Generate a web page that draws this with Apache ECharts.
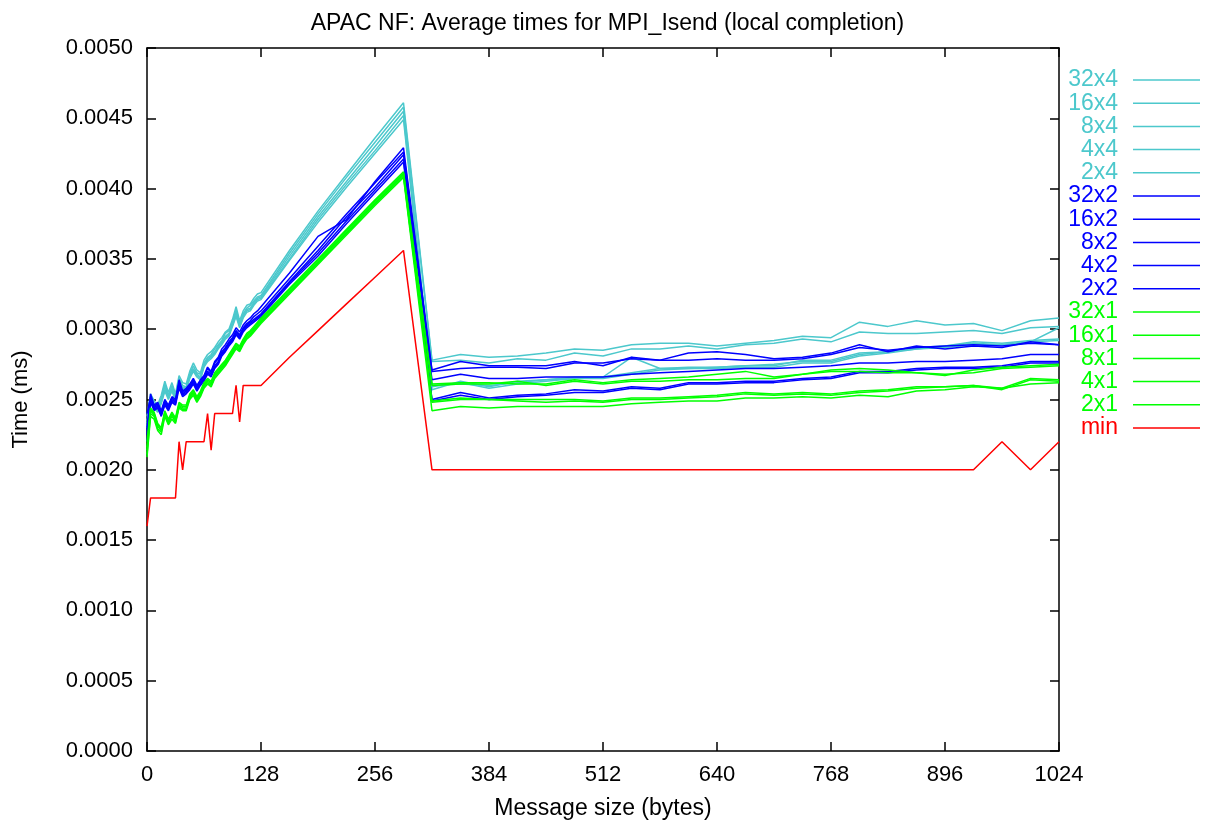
<!DOCTYPE html>
<html><head><meta charset="utf-8">
<script src="https://cdn.jsdelivr.net/npm/echarts@6/dist/echarts.min.js"></script>
<style>html,body{margin:0;padding:0;background:#fff}#c{width:1215px;height:825px}</style>
</head><body><div id="c"></div>
<script>
// Message sizes (bytes)
const sizes = [0,4,8,12,16,20,24,28,32,36,40,44,48,52,56,60,64,68,72,76,80,84,88,92,96,100,104,108,112,116,120,124,128,160,192,224,256,288,320,352,384,416,448,480,512,544,576,608,640,672,704,736,768,800,832,864,896,928,960,992,1024];

// Average times (ms)
const s32x4 = [0.00238,0.00254,0.00249,0.00246,0.00253,0.00263,0.00255,0.00262,0.00254,0.00267,0.00262,0.00261,0.00270,0.00276,0.00271,0.00269,0.00278,0.00282,0.00284,0.00287,0.00291,0.00294,0.00298,0.00300,0.00307,0.00316,0.00306,0.00313,0.00317,0.00318,0.00322,0.00325,0.00326,
  0.00356,0.00384,0.00410,0.00436,0.00461,
  0.00278,0.00282,0.00280,0.00281,0.00283,0.00286,0.00285,0.00289,0.00290,0.00290,0.00288,0.00290,0.00292,0.00295,0.00294,0.00305,0.00302,0.00306,0.00303,0.00304,0.00299,0.00306,0.00308];
const s16x4 = [0.00235,0.00252,0.00247,0.00244,0.00251,0.00261,0.00253,0.00260,0.00252,0.00265,0.00260,0.00259,0.00268,0.00274,0.00269,0.00268,0.00276,0.00280,0.00282,0.00286,0.00289,0.00292,0.00297,0.00299,0.00305,0.00314,0.00304,0.00311,0.00315,0.00317,0.00320,0.00323,0.00324,
  0.00354,0.00382,0.00408,0.00433,0.00458,
  0.00277,0.00278,0.00276,0.00279,0.00278,0.00283,0.00281,0.00286,0.00286,0.00288,0.00286,0.00289,0.00290,0.00293,0.00291,0.00298,0.00297,0.00297,0.00298,0.00299,0.00297,0.00301,0.00302];
const s8x4 = [0.00233,0.00250,0.00246,0.00243,0.00249,0.00259,0.00252,0.00258,0.00251,0.00263,0.00259,0.00258,0.00267,0.00272,0.00268,0.00266,0.00275,0.00279,0.00281,0.00284,0.00288,0.00291,0.00295,0.00297,0.00304,0.00312,0.00303,0.00310,0.00314,0.00315,0.00319,0.00322,0.00323,
  0.00352,0.00380,0.00405,0.00430,0.00455,
  0.00257,0.00263,0.00259,0.00263,0.00264,0.00265,0.00266,0.00280,0.00272,0.00272,0.00273,0.00274,0.00274,0.00278,0.00278,0.00283,0.00284,0.00286,0.00288,0.00290,0.00289,0.00291,0.00301];
const s4x4 = [0.00231,0.00249,0.00245,0.00242,0.00248,0.00257,0.00251,0.00257,0.00250,0.00262,0.00258,0.00257,0.00266,0.00271,0.00267,0.00265,0.00274,0.00278,0.00280,0.00283,0.00287,0.00290,0.00294,0.00296,0.00303,0.00310,0.00302,0.00309,0.00313,0.00314,0.00318,0.00321,0.00322,
  0.00350,0.00378,0.00403,0.00427,0.00452,
  0.00260,0.00261,0.00260,0.00262,0.00264,0.00266,0.00266,0.00269,0.00272,0.00273,0.00273,0.00274,0.00275,0.00277,0.00277,0.00282,0.00284,0.00287,0.00288,0.00291,0.00290,0.00292,0.00293];
const s2x4 = [0.00230,0.00248,0.00244,0.00241,0.00247,0.00256,0.00250,0.00256,0.00249,0.00261,0.00257,0.00256,0.00265,0.00270,0.00266,0.00264,0.00273,0.00277,0.00279,0.00282,0.00286,0.00289,0.00293,0.00295,0.00302,0.00309,0.00301,0.00308,0.00312,0.00313,0.00317,0.00320,0.00321,
  0.00349,0.00376,0.00401,0.00425,0.00449,
  0.00259,0.00262,0.00258,0.00261,0.00263,0.00265,0.00265,0.00268,0.00271,0.00272,0.00272,0.00273,0.00273,0.00276,0.00276,0.00281,0.00283,0.00286,0.00287,0.00289,0.00289,0.00291,0.00292];
const s32x2 = [0.00230,0.00254,0.00246,0.00248,0.00242,0.00250,0.00246,0.00252,0.00250,0.00264,0.00256,0.00258,0.00261,0.00265,0.00260,0.00264,0.00267,0.00273,0.00270,0.00277,0.00280,0.00286,0.00289,0.00293,0.00296,0.00301,0.00298,0.00303,0.00306,0.00308,0.00311,0.00313,0.00316,
  0.00340,0.00366,0.00378,0.00405,0.00429,
  0.00271,0.00277,0.00274,0.00274,0.00274,0.00277,0.00274,0.00280,0.00278,0.00283,0.00284,0.00282,0.00279,0.00280,0.00283,0.00289,0.00284,0.00288,0.00286,0.00288,0.00287,0.00291,0.00289];
const s16x2 = [0.00240,0.00252,0.00245,0.00247,0.00241,0.00249,0.00245,0.00251,0.00249,0.00262,0.00255,0.00257,0.00260,0.00264,0.00259,0.00263,0.00266,0.00272,0.00269,0.00276,0.00279,0.00284,0.00287,0.00291,0.00294,0.00299,0.00296,0.00301,0.00304,0.00306,0.00309,0.00311,0.00313,
  0.00336,0.00359,0.00382,0.00404,0.00426,
  0.00270,0.00272,0.00273,0.00273,0.00272,0.00276,0.00276,0.00279,0.00278,0.00278,0.00279,0.00278,0.00278,0.00279,0.00282,0.00287,0.00285,0.00287,0.00288,0.00289,0.00288,0.00290,0.00289];
const s8x2 = [0.00225,0.00250,0.00244,0.00246,0.00240,0.00248,0.00244,0.00250,0.00248,0.00261,0.00254,0.00256,0.00259,0.00263,0.00258,0.00262,0.00265,0.00270,0.00268,0.00274,0.00277,0.00283,0.00286,0.00290,0.00293,0.00298,0.00295,0.00300,0.00303,0.00305,0.00307,0.00309,0.00311,
  0.00334,0.00356,0.00380,0.00401,0.00424,
  0.00264,0.00268,0.00265,0.00265,0.00266,0.00266,0.00266,0.00268,0.00269,0.00270,0.00271,0.00272,0.00272,0.00273,0.00274,0.00276,0.00276,0.00277,0.00277,0.00278,0.00279,0.00282,0.00282];
const s4x2 = [0.00220,0.00249,0.00243,0.00245,0.00239,0.00247,0.00243,0.00249,0.00247,0.00260,0.00253,0.00255,0.00258,0.00262,0.00257,0.00261,0.00264,0.00269,0.00267,0.00273,0.00276,0.00282,0.00285,0.00289,0.00292,0.00297,0.00294,0.00299,0.00302,0.00304,0.00306,0.00308,0.00310,
  0.00333,0.00354,0.00377,0.00399,0.00421,
  0.00250,0.00255,0.00251,0.00253,0.00254,0.00257,0.00256,0.00259,0.00258,0.00262,0.00262,0.00263,0.00263,0.00265,0.00266,0.00270,0.00270,0.00272,0.00273,0.00273,0.00274,0.00277,0.00277];
const s2x2 = [0.00228,0.00248,0.00242,0.00244,0.00238,0.00246,0.00242,0.00248,0.00246,0.00258,0.00252,0.00254,0.00257,0.00261,0.00256,0.00260,0.00263,0.00268,0.00266,0.00272,0.00275,0.00281,0.00284,0.00288,0.00291,0.00296,0.00293,0.00298,0.00301,0.00303,0.00305,0.00307,0.00309,
  0.00332,0.00352,0.00375,0.00397,0.00419,
  0.00249,0.00253,0.00250,0.00252,0.00253,0.00255,0.00255,0.00258,0.00257,0.00261,0.00261,0.00262,0.00262,0.00264,0.00265,0.00269,0.00269,0.00271,0.00272,0.00272,0.00273,0.00276,0.00276];
const s32x1 = [0.00220,0.00244,0.00241,0.00233,0.00230,0.00242,0.00236,0.00241,0.00237,0.00248,0.00246,0.00246,0.00254,0.00257,0.00252,0.00256,0.00262,0.00265,0.00263,0.00269,0.00272,0.00275,0.00278,0.00282,0.00286,0.00290,0.00288,0.00293,0.00297,0.00299,0.00302,0.00305,0.00308,
  0.00329,0.00350,0.00371,0.00392,0.00412,
  0.00261,0.00262,0.00262,0.00261,0.00261,0.00264,0.00262,0.00264,0.00265,0.00266,0.00268,0.00270,0.00266,0.00268,0.00271,0.00272,0.00271,0.00269,0.00267,0.00271,0.00273,0.00274,0.00275];
const s16x1 = [0.00216,0.00243,0.00240,0.00232,0.00229,0.00241,0.00235,0.00240,0.00236,0.00247,0.00245,0.00245,0.00253,0.00256,0.00251,0.00255,0.00261,0.00264,0.00262,0.00268,0.00271,0.00274,0.00277,0.00281,0.00285,0.00289,0.00287,0.00292,0.00296,0.00298,0.00301,0.00304,0.00307,
  0.00328,0.00349,0.00370,0.00391,0.00411,
  0.00260,0.00261,0.00261,0.00263,0.00260,0.00263,0.00261,0.00263,0.00263,0.00264,0.00264,0.00265,0.00265,0.00268,0.00270,0.00270,0.00269,0.00269,0.00268,0.00269,0.00272,0.00273,0.00274];
const s8x1 = [0.00214,0.00242,0.00239,0.00231,0.00228,0.00240,0.00234,0.00239,0.00235,0.00246,0.00244,0.00244,0.00252,0.00255,0.00250,0.00254,0.00260,0.00263,0.00261,0.00267,0.00270,0.00273,0.00276,0.00280,0.00284,0.00288,0.00286,0.00291,0.00295,0.00297,0.00300,0.00303,0.00306,
  0.00327,0.00348,0.00369,0.00390,0.00410,
  0.00249,0.00251,0.00250,0.00250,0.00250,0.00250,0.00249,0.00251,0.00251,0.00252,0.00253,0.00255,0.00254,0.00255,0.00254,0.00256,0.00257,0.00259,0.00259,0.00260,0.00258,0.00265,0.00264];
const s4x1 = [0.00211,0.00240,0.00238,0.00229,0.00227,0.00239,0.00233,0.00238,0.00234,0.00245,0.00243,0.00243,0.00251,0.00254,0.00249,0.00253,0.00259,0.00262,0.00260,0.00266,0.00269,0.00272,0.00275,0.00279,0.00283,0.00287,0.00285,0.00290,0.00294,0.00296,0.00299,0.00302,0.00305,
  0.00326,0.00347,0.00368,0.00389,0.00409,
  0.00248,0.00250,0.00250,0.00249,0.00248,0.00249,0.00248,0.00250,0.00250,0.00251,0.00252,0.00254,0.00253,0.00254,0.00253,0.00255,0.00256,0.00258,0.00259,0.00260,0.00257,0.00264,0.00263];
const s2x1 = [0.00209,0.00238,0.00236,0.00228,0.00225,0.00238,0.00232,0.00236,0.00233,0.00244,0.00242,0.00242,0.00250,0.00253,0.00248,0.00252,0.00258,0.00261,0.00259,0.00265,0.00268,0.00271,0.00274,0.00278,0.00282,0.00286,0.00284,0.00289,0.00293,0.00295,0.00298,0.00301,0.00304,
  0.00325,0.00346,0.00367,0.00388,0.00408,
  0.00242,0.00245,0.00244,0.00245,0.00245,0.00245,0.00245,0.00247,0.00248,0.00249,0.00249,0.00251,0.00251,0.00252,0.00251,0.00253,0.00252,0.00256,0.00257,0.00259,0.00258,0.00261,0.00262];
const sMin = [0.00160,0.00180,0.00180,0.00180,0.00180,0.00180,0.00180,0.00180,0.00180,0.00220,0.00200,0.00220,0.00220,0.00220,0.00220,0.00220,0.00220,0.00240,0.00214,0.00240,0.00240,0.00240,0.00240,0.00240,0.00240,0.00260,0.00234,0.00260,0.00260,0.00260,0.00260,0.00260,0.00260,
  0.00280,0.00299,0.00318,0.00337,0.00356,
  0.00200,0.00200,0.00200,0.00200,0.00200,0.00200,0.00200,0.00200,0.00200,0.00200,0.00200,0.00200,0.00200,0.00200,0.00200,0.00200,0.00200,0.00200,0.00200,0.00200,0.00220,0.00200,0.00220];

const seriesNames = ['32x4','16x4','8x4','4x4','2x4','32x2','16x2','8x2','4x2','2x2','32x1','16x1','8x1','4x1','2x1','min'];
const seriesValues = [s32x4,s16x4,s8x4,s4x4,s2x4,s32x2,s16x2,s8x2,s4x2,s2x2,s32x1,s16x1,s8x1,s4x1,s2x1,sMin];

const CYAN = '#4cc8cc', BLUE = '#0000ff', GREEN = '#00ff00', RED = '#ff0000';
const seriesColors = [CYAN,CYAN,CYAN,CYAN,CYAN,BLUE,BLUE,BLUE,BLUE,BLUE,GREEN,GREEN,GREEN,GREEN,GREEN,RED];

const FONT = "'Liberation Sans', Arial, Helvetica, sans-serif";

const chart = echarts.init(document.getElementById('c'), null, {renderer: 'canvas'});

const axisLine = {show: true, onZero: false, lineStyle: {color: '#000', width: 1.5}};
const axisTick = {show: true, inside: true, length: 9, lineStyle: {color: '#000', width: 1.5}};

chart.setOption({
  animation: false,
  backgroundColor: '#fff',
  title: {
    text: 'APAC NF: Average times for MPI_Isend (local completion)',
    left: 'center', top: 12, padding: 0,
    textStyle: {fontFamily: FONT, fontSize: 23, fontWeight: 'normal', color: '#000'}
  },
  grid: {left: 147, right: 156, top: 48, bottom: 73, containLabel: false},
  legend: {
    orient: 'vertical', right: 15, top: 68.5, align: 'right', padding: 0,
    icon: 'rect', itemWidth: 67, itemHeight: 1.5, itemGap: 0.2,
    selectedMode: false,
    textStyle: {fontFamily: FONT, fontSize: 23, lineHeight: 23, padding: [0, 10, 0, 0]},
    data: seriesNames.map((n, i) => ({name: n, textStyle: {color: seriesColors[i]}}))
  },
  xAxis: [
    {
      type: 'value', position: 'bottom', min: 0, max: 1024, interval: 128,
      axisLine, axisTick, splitLine: {show: false},
      axisLabel: {fontFamily: FONT, fontSize: 22, color: '#000', margin: 13, formatter: v => String(v)},
      name: 'Message size (bytes)', nameLocation: 'middle', nameGap: 46,
      nameTextStyle: {fontFamily: FONT, fontSize: 23, color: '#000'}
    },
    {
      type: 'value', position: 'top', min: 0, max: 1024, interval: 128,
      axisLine, axisTick, splitLine: {show: false}, axisLabel: {show: false}
    }
  ],
  yAxis: [
    {
      type: 'value', position: 'left', min: 0, max: 0.005, interval: 0.0005,
      axisLine, axisTick, splitLine: {show: false},
      axisLabel: {fontFamily: FONT, fontSize: 22, color: '#000', margin: 14, formatter: v => v.toFixed(4)},
      name: 'Time (ms)', nameLocation: 'middle', nameGap: 115, nameRotate: 90,
      nameTextStyle: {fontFamily: FONT, fontSize: 22, color: '#000'}
    },
    {
      type: 'value', position: 'right', min: 0, max: 0.005, interval: 0.0005,
      axisLine, axisTick, splitLine: {show: false}, axisLabel: {show: false}
    }
  ],
  series: seriesNames.map((n, i) => ({
    name: n, type: 'line', xAxisIndex: 0, yAxisIndex: 0,
    data: sizes.map((x, j) => [x, seriesValues[i][j]]),
    symbol: 'none', silent: true,
    color: seriesColors[i],
    lineStyle: {color: seriesColors[i], width: 1.5},
    emphasis: {disabled: true}
  }))
});
</script>
</body></html>
